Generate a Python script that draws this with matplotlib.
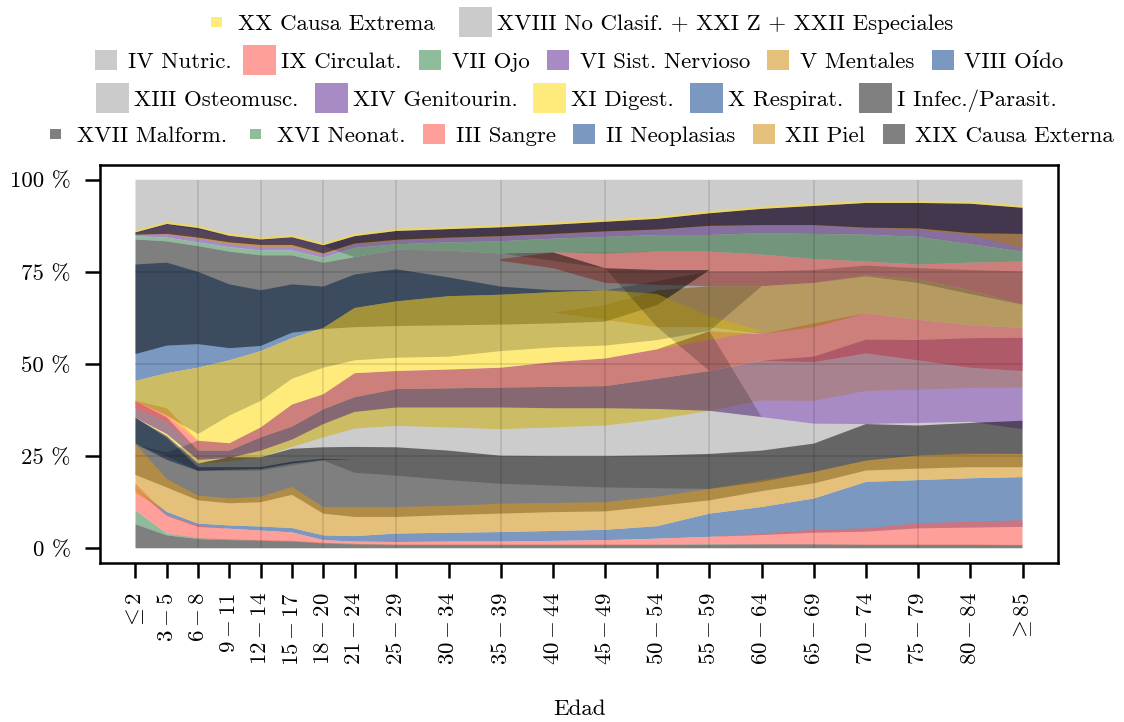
import numpy as np
import matplotlib
matplotlib.use("Agg")
import matplotlib.pyplot as plt
from matplotlib.patches import Patch, Rectangle
from matplotlib.legend_handler import HandlerPatch
from matplotlib.colors import to_rgb

plt.rcParams["font.family"] = ["cmr10", "DejaVu Serif"]
plt.rcParams["mathtext.fontset"] = "cm"
plt.rcParams["axes.unicode_minus"] = False

# grupos de edad y posicion en el eje
edades = [r"$\leq 2$", "$3 - 5$", "$6 - 8$", "$9 - 11$", "$12 - 14$", "$15 - 17$",
          "$18 - 20$", "$21 - 24$", "$25 - 29$", "$30 - 34$", "$35 - 39$", "$40 - 44$",
          "$45 - 49$", "$50 - 54$", "$55 - 59$", "$60 - 64$", "$65 - 69$", "$70 - 74$",
          "$75 - 79$", "$80 - 84$", r"$\geq 85$"]
x_edad = [1, 4, 7, 10, 13, 16, 19, 22, 26, 31, 36, 41, 46, 51, 56, 61, 66, 71, 76, 81, 86]
x_grid = [7, 13, 19, 26, 36, 46, 56, 66, 76]

# limite superior del acumulado (bajo el bloque no clasificado)
cima = [86.3, 88.6, 87.5, 85.4, 84.4, 85.0, 82.8, 85.3, 86.7, 87.2, 87.7, 88.4, 89.2,
        90.0, 91.5, 92.7, 93.5, 94.3, 94.3, 94.1, 93.0]

# bandas (% del total): limite inferior y superior por grupo de edad
malform_lo = [0] * 21
malform_hi = [6.5, 3.5, 2.5, 2.2, 2.0, 1.8, 1.3, 1.0, 0.9, 0.9, 0.9, 0.9, 0.9, 0.9, 1.0, 1.0, 1.0, 0.9, 0.9, 0.9, 0.8]
neonat_hi = [10.3, 4.0, 2.8, 2.4, 2.2, 2.0, 1.5, 1.2, 1.0, 1.0, 1.0, 1.0, 1.0, 1.0, 1.1, 1.1, 1.1, 1.0, 1.0, 1.0, 0.9]
sangre_lo = [10.3, 4.0, 2.7, 2.2, 2.0, 1.8, 1.3, 1.0, 0.9, 0.9, 0.9, 0.9, 0.9, 0.9, 1.1, 1.0, 1.0, 0.9, 0.9, 0.9, 0.8]
sangre_hi = [17.6, 9.0, 6.2, 5.3, 4.8, 4.3, 2.2, 1.8, 1.7, 1.8, 1.8, 2.0, 2.2, 2.6, 3.1, 4.0, 5.0, 5.4, 6.8, 7.2, 7.6]
neopl_lo = [16.0, 8.8, 5.8, 5.3, 4.8, 4.3, 2.2, 1.8, 1.7, 1.8, 1.8, 2.0, 2.2, 2.6, 3.1, 3.6, 4.2, 4.5, 5.4, 5.6, 5.8]
neopl_hi = [16.2, 9.9, 6.7, 6.2, 5.9, 5.5, 3.5, 3.3, 4.0, 4.2, 4.4, 4.7, 5.0, 6.0, 9.4, 11.2, 13.5, 18.0, 18.5, 19.0, 19.3]
piel_lo = [15.0, 9.9, 6.7, 6.2, 5.9, 5.5, 3.5, 3.3, 4.0, 4.2, 4.4, 4.7, 5.0, 6.0, 9.4, 11.2, 13.5, 18.0, 18.5, 19.0, 19.3]
piel_hi = [28.4, 18.8, 14.3, 13.5, 14.0, 16.6, 11.2, 11.2, 11.2, 11.5, 12.1, 12.3, 12.5, 14.0, 16.1, 18.5, 20.7, 23.8, 25.2, 25.8, 25.6]
externa_lo = [19.9, 16.5, 13.0, 12.2, 12.5, 14.5, 9.4, 8.5, 8.5, 9.0, 9.4, 9.8, 10.0, 11.5, 13.0, 15.5, 17.6, 21.1, 21.6, 22.0, 22.0]
externa_hi = [35.4, 30.5, 23.0, 24.7, 24.7, 27.0, 27.4, 27.5, 27.4, 26.5, 25.1, 25.0, 25.0, 25.2, 25.6, 26.5, 28.4, 33.7, 33.3, 34.0, 34.6]
osteo_lo = [28.0, 25.0, 21.1, 21.0, 21.1, 22.5, 23.8, 20.5, 19.7, 18.5, 17.5, 17.0, 16.5, 16.3, 16.1, 18.0, 20.7, 23.8, 25.2, 25.5, 25.6]
osteo_hi = [28.0, 26.0, 29.2, 28.5, 32.8, 39.0, 41.8, 47.5, 48.1, 48.5, 49.0, 50.5, 51.5, 54.0, 58.9, 35.6, 33.8, 33.7, 34.0, 34.3, 32.3]
oido_lo = [28.4, 24.0, 21.0, 21.3, 21.5, 23.0, 24.0, 24.0] + [None] * 13
oido_hi = [35.4, 30.0, 22.0, 22.0, 22.0, 23.5, 24.3, 24.0] + [None] * 13
digest2_lo = [35.4, 30.5, 23.0, 23.5, 24.7, 27.5, 30.1, 32.5, 33.2, 32.8, 32.3, 32.8, 33.3, 35.0, 37.3, 40.1, 40.0, 42.7, 43.0, 43.5, 43.6]
digest2_hi = [40.0, 35.5, 26.5, 26.5, 30.1, 33.0, 37.7, 41.0, 43.2, 43.4, 43.6, 43.8, 44.0, 46.0, 48.1, 50.9, 50.5, 52.9, 51.0, 49.0, 48.1]
genito_lo = [35.4, 31.0, 24.0, 24.5, 26.5, 29.5, 33.7, 37.0, 38.2, 38.2, 38.2, 38.0, 38.0, 37.8, 37.3, 35.6, 33.8, 33.7, 34.0, 34.3, 32.3]
genito_hi = [40.0, 35.5, 26.5, 26.5, 30.1, 33.0, 37.7, 41.0, 43.2, 43.4, 43.6, 43.8, 44.0, 46.0, 48.1, 50.9, 52.0, 56.6, 56.5, 57.0, 57.1]
circ_lo = [38.0, 34.5, 26.5, 26.5, 30.1, 33.0, 37.7, 41.0, 43.2, 43.4, 43.6, 43.8, 44.0, 46.0, 48.1, 50.9, 50.5, 52.9, 51.0, 49.0, 48.1]
circ_hi = [40.0, 38.0, 29.2, 28.5, 32.8, 39.0, 41.8, 47.5, 48.1, 48.5, 49.0, 50.5, 51.5, 54.0, 58.9, 58.1, 61.0, 63.8, 62.0, 60.5, 59.8]
circ2_lo = [None] * 10 + [78.0, 76.0, 72.0, 71.5, 71.1, 71.1, 72.0, 74.1, 73.0, 70.0, 66.1]
circ2_hi = [None] * 10 + [78.5, 80.3, 80.2, 80.5, 80.5, 79.7, 78.5, 77.8, 77.0, 77.5, 77.8]
digest_lo = [40.0, 36.0, 29.0, 28.5, 32.8, 39.0, 41.8, 47.5, 48.1, 48.5, 49.0, 50.5, 51.5, 54.0, 56.5, 59.0, 59.0, 59.0, 59.0, 59.0, 59.0]
digest_hi = [45.4, 47.5, 49.0, 51.0, 53.5, 57.0, 59.8, 65.2, 67.0, 68.4, 68.8, 69.5, 70.0, 69.0, 63.0, 59.0, 59.0, 59.0, 59.0, 59.0, 59.0]
nutric_lo = [40.0, 36.0, 31.0, 36.0, 40.0, 46.0, 49.0, 51.0, 51.7, 52.0, 53.5, 54.5, 55.0, 56.5, 59.0, 71.1, 72.0, 73.8, 72.0, 69.0, 66.1]
nutric_hi = [45.4, 47.5, 49.0, 51.0, 53.5, 57.0, 59.8, 65.2, 67.0, 68.4, 68.8, 69.5, 70.0, 72.5, 75.1, 75.1, 75.5, 76.7, 76.0, 75.5, 75.1]
resp_lo = [45.4, 47.5, 49.0, 51.0, 53.5, 57.0, 59.8, 65.2, 67.0, 68.4, 68.8, 69.5, 70.0] + [None] * 8
resp_hi = [77.0, 77.5, 75.0, 71.6, 70.0, 71.6, 71.0, 74.3, 75.7, 73.5, 71.0, 70.0, 70.0] + [None] * 8
infec_lo = [52.7, 55.0, 55.4, 54.3, 54.9, 58.5, 59.5, 60.0, 60.3, 60.5, 60.7, 61.0, 61.5, 66.0, 75.5] + [None] * 6
infec_hi = [83.8, 83.3, 82.0, 80.5, 79.5, 79.5, 77.5, 79.0, 81.0, 80.8, 80.0, 80.3, 76.0, 75.5, 75.5] + [None] * 6
mental_lo = [None] * 11 + [64.0, 62.0, 60.0, 60.0, 58.1, 60.0, 63.8, 62.0, 60.5, 59.8]
mental_hi = [None] * 11 + [64.0, 66.0, 70.0, 71.1, 71.1, 72.0, 74.1, 73.0, 70.0, 66.1]
ojo_lo = [83.8, 83.3, 82.0, 80.5, 79.5, 79.5, 77.5, 79.0, 81.0, 80.8, 80.0, 80.3, 80.0, 80.5, 80.5, 79.7, 78.5, 77.8, 77.0, 77.5, 77.8]
ojo_hi = [84.7, 84.3, 83.0, 81.7, 80.8, 80.8, 78.8, 81.5, 82.5, 83.0, 83.3, 84.0, 84.5, 85.0, 85.0, 85.5, 85.3, 85.1, 84.5, 82.5, 80.5]
nerv_hi = [85.2, 85.2, 84.0, 82.5, 81.7, 81.8, 79.7, 82.5, 83.5, 84.2, 84.6, 85.3, 86.0, 86.5, 87.7, 88.0, 88.0, 86.9, 86.5, 85.0, 81.4]
mental2_hi = [85.6, 85.8, 84.8, 83.5, 82.8, 82.8, 80.5, 83.2, 84.2, 84.8, 85.2, 85.8, 86.5, 87.0, 88.0, 88.2, 88.2, 87.2, 87.0, 85.8, 85.5]
infec2_lo = [85.1, 85.3, 84.3, 83.0, 82.3, 82.3, 80.0, 82.7, 83.7, 84.3, 84.7, 85.3, 86.0, 86.5, 87.5, 87.7, 87.7, 87.0, 86.8, 85.5, 85.3]
noclasif_lo = [85.5, 87.8, 86.5, 84.8, 83.8, 84.3, 82.0, 79.0, 81.0, 80.8, 80.0, 78.0, 76.0, 60.0, 48.1, 50.9, 50.5, 52.9, 51.0, 49.0, 48.1]

# colores tal como se ven sobre blanco
AMA, GRC, ROS, VER, LIL, OCR, AZU, GRO = ("#ffeb7c", "#cbcbcb", "#ff9f9a", "#8fbc9a",
                                          "#a88bc4", "#e5c07b", "#7b98c0", "#808080")
ALFA = 0.6


def tinta(hexcol):
    if hexcol == GRC:
        return (0, 0, 0, 0.2)
    if hexcol == GRO:
        return (0, 0, 0, 0.5)
    return tuple((v - (1 - ALFA)) / ALFA for v in to_rgb(hexcol)) + (ALFA,)


def arr(v):
    return np.array([np.nan if a is None else a for a in v], dtype=float)


cima_a = arr(cima)
bandas = [  # orden de dibujo
    (neopl_lo, neopl_hi, AZU),
    (malform_hi, neonat_hi, VER),
    (sangre_lo, sangre_hi, ROS),
    (resp_lo, resp_hi, AZU),
    (oido_lo, oido_hi, AZU),
    (digest2_lo, digest2_hi, AMA),
    (genito_lo, genito_hi, LIL),
    (circ_lo, circ_hi, ROS),
    (circ2_lo, circ2_hi, ROS),
    (ojo_hi, list(cima_a - 0.6), LIL),
    (ojo_lo, ojo_hi, VER),
    (mental_lo, mental_hi, OCR),
    (nerv_hi, mental2_hi, OCR),
    (malform_lo, malform_hi, GRO),
    (externa_lo, externa_hi, GRO),
    (infec_lo, infec_hi, GRO),
    (infec2_lo, list(cima_a - 0.6), GRO),
    (piel_lo, piel_hi, OCR),
    (digest_lo, digest_hi, AMA),
    (nutric_lo, nutric_hi, GRC),
    (osteo_lo, osteo_hi, GRC),
    (noclasif_lo, [100] * 21, GRC),
    (list(cima_a - 0.6), cima, AMA),
]

# leyenda: (etiqueta, color, tamano de la caja)
filas = [
    [("XX Causa Extrema", AMA, 1 / 3), ("XVIII No Clasif. + XXI Z + XXII Especiales", GRC, 1)],
    [("IV Nutric.", GRC, 2 / 3), ("IX Circulat.", ROS, 1), ("VII Ojo", VER, 2 / 3),
     ("VI Sist. Nervioso", LIL, 2 / 3), ("V Mentales", OCR, 2 / 3), ("VIII Oído", AZU, 2 / 3)],
    [("XIII Osteomusc.", GRC, 1), ("XIV Genitourin.", LIL, 1), ("XI Digest.", AMA, 1),
     ("X Respirat.", AZU, 1), ("I Infec./Parasit.", GRO, 1)],
    [("XVII Malform.", GRO, 1 / 3), ("XVI Neonat.", VER, 1 / 3), ("III Sangre", ROS, 2 / 3),
     ("II Neoplasias", AZU, 2 / 3), ("XII Piel", OCR, 2 / 3), ("XIX Causa Externa", GRO, 2 / 3)],
]
fila_y = [22, 60, 98, 134]
fila_sep = [24, 12, 16, 12]


class HandlerCaja(HandlerPatch):
    def create_artists(self, legend, orig_handle, xdescent, ydescent, width, height,
                       fontsize, trans):
        k = orig_handle.escala
        w, h = width * k, height * k
        r = Rectangle((-xdescent + (width - w) / 2, -ydescent + (height - h) / 2), w, h,
                      facecolor=orig_handle.get_facecolor(), edgecolor="none",
                      transform=trans)
        return [r]


FS = 16.5
fig = plt.figure(figsize=(11.24, 7.22), dpi=100)
ax = fig.add_axes([100 / 1124, 1 - 563 / 722, 958 / 1124, 398 / 722])
x = np.array(x_edad, dtype=float)

for lo, hi, col in bandas:
    ax.fill_between(x, arr(lo), arr(hi), facecolor=tinta(col), edgecolor="none", lw=0)

ax.vlines(x_grid, 0, 100, color=(0, 0, 0, 0.12), lw=1.2, zorder=5)
ax.hlines([25, 50, 75], x[0], x[-1], color=(0, 0, 0, 0.12), lw=1.2, zorder=5)

ax.set_xlim(-2.4, 89.4)
ax.set_ylim(-4, 104)
ax.set_xticks(x)
ax.set_xticklabels(edades, rotation=90, fontsize=FS)
ax.set_yticks([0, 25, 50, 75, 100])
ax.set_yticklabels(["0 %", "25 %", "50 %", "75 %", "100 %"], fontsize=FS)
ax.tick_params(length=11, width=1.8, pad=10)
for s in ax.spines.values():
    s.set_linewidth(1.8)
ax.set_xlabel("Edad", fontsize=FS, va="center")
ax.xaxis.set_label_coords(0.5, -0.368)

F_PX = FS * 100 / 72
for i, fila in enumerate(filas):
    hs = []
    for lab, col, k in fila:
        p = Patch(facecolor=col, label=lab)
        p.escala = k
        hs.append(p)
    fig.legend(handles=hs, loc="center", bbox_to_anchor=(0.513, 1 - fila_y[i] / 722),
               ncol=len(hs), frameon=False, fontsize=FS, handlelength=33 / F_PX,
               handleheight=36 / F_PX, handletextpad=5 / F_PX,
               columnspacing=fila_sep[i] / F_PX, borderpad=0,
               handler_map={Patch: HandlerCaja()})

fig.savefig("out.png", dpi=100)
